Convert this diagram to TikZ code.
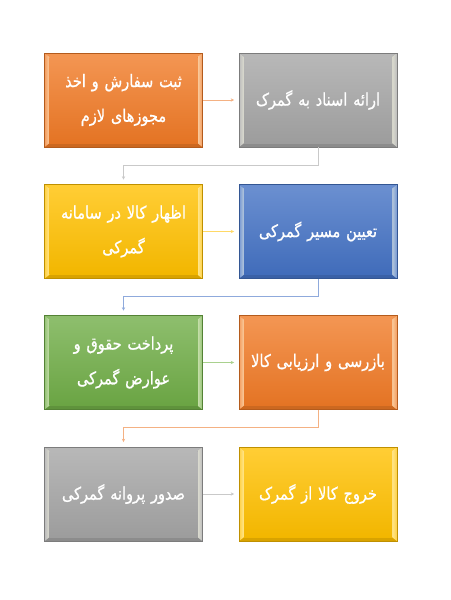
\documentclass[tikz,border=0pt]{standalone}
\usepackage{fontspec}
\usetikzlibrary{arrows.meta}
\TeXXeTstate=1
\newfontfamily\arabicfont[Script=Arabic,FakeStretch=0.84,FakeBold=0.8]{DejaVu Sans}
\definecolor{cOrange}{HTML}{F07A26}
\definecolor{cGray}{HTML}{A5A5A5}
\definecolor{cYellow}{HTML}{FFC000}
\definecolor{cBlue}{HTML}{4472C4}
\definecolor{cGreen}{HTML}{70AD47}
\definecolor{lOrange}{HTML}{F4B183}
\definecolor{lGray}{HTML}{C9C9C9}
\definecolor{lYellow}{HTML}{FFD966}
\definecolor{lBlue}{HTML}{8FAADC}
\definecolor{lGreen}{HTML}{A9D18E}
\tikzset{
  stepbox/.style={rectangle, minimum width=118.5pt, minimum height=70.5pt,
    text width=112pt, inner sep=0pt, text=white, align=center,
    font=\arabicfont\fontsize{13}{26}\selectfont,
    draw=#1!75!black, line width=0.4pt, fill=#1,
    path picture={
      \coordinate (nw) at (path picture bounding box.north west);
      \coordinate (ne) at (path picture bounding box.north east);
      \coordinate (sw) at (path picture bounding box.south west);
      \coordinate (se) at (path picture bounding box.south east);
      \coordinate (inw) at ([xshift=3.75pt,yshift=-3pt]nw);
      \coordinate (ine) at ([xshift=-3.75pt,yshift=-3pt]ne);
      \coordinate (isw) at ([xshift=3.75pt,yshift=3pt]sw);
      \coordinate (ise) at ([xshift=-3.75pt,yshift=3pt]se);
      \fill[#1!80!white] (nw) -- (ne) -- (ine) -- (inw) -- cycle;
      \fill[#1!85!black] (sw) -- (se) -- (ise) -- (isw) -- cycle;
      \fill[left color=#1!75!white, right color=#1!40!white!95!yellow] (nw) -- (inw) -- (isw) -- (sw) -- cycle;
      \fill[left color=#1!40!white!95!yellow, right color=#1!75!white] (ne) -- (ine) -- (ise) -- (se) -- cycle;
      \fill[top color=#1!80!white, bottom color=#1!95!black] (inw) rectangle (ise);
    }},
  conn/.style={line width=0.5pt, -{Stealth[length=2.5pt,width=2.5pt]}, shorten >=3.5pt}
}
\begin{document}
\begin{tikzpicture}[x=0.75pt,y=-0.75pt]
\useasboundingbox (0,0) rectangle (450,600);
\node[stepbox=cOrange] (b1) at (123.5,100) {\beginR ثبت سفارش و اخذ\endR\\\beginR مجوزهای لازم\endR};
\node[stepbox=cGray]   (b2) at (318,100) {\beginR ارائه اسناد به گمرک\endR};
\node[stepbox=cYellow] (b3) at (123.5,231.5) {\beginR اظهار کالا در سامانه\endR\\\beginR گمرکی\endR};
\node[stepbox=cBlue]   (b4) at (318,231.5) {\beginR تعیین مسیر گمرکی\endR};
\node[stepbox=cGreen]  (b5) at (123.5,362.5) {\beginR پرداخت حقوق و\endR\\\beginR عوارض گمرکی\endR};
\node[stepbox=cOrange] (b6) at (318,362.5) {\beginR بازرسی و ارزیابی کالا\endR};
\node[stepbox=cGray]   (b7) at (123.5,494) {\beginR صدور پروانه گمرکی\endR};
\node[stepbox=cYellow] (b8) at (318,494) {\beginR خروج کالا از گمرک\endR};
\draw[conn, lOrange] (b1.east) -- (b2.west);
\draw[conn, lYellow] (b3.east) -- (b4.west);
\draw[conn, lGreen] (b5.east) -- (b6.west);
\draw[conn, lGray] (b7.east) -- (b8.west);
\draw[conn, lGray] (b2.south) -- ++(0,18) -| (b3.north);
\draw[conn, lBlue] (b4.south) -- ++(0,18) -| (b5.north);
\draw[conn, lOrange] (b6.south) -- ++(0,18) -| (b7.north);
\end{tikzpicture}
\end{document}
